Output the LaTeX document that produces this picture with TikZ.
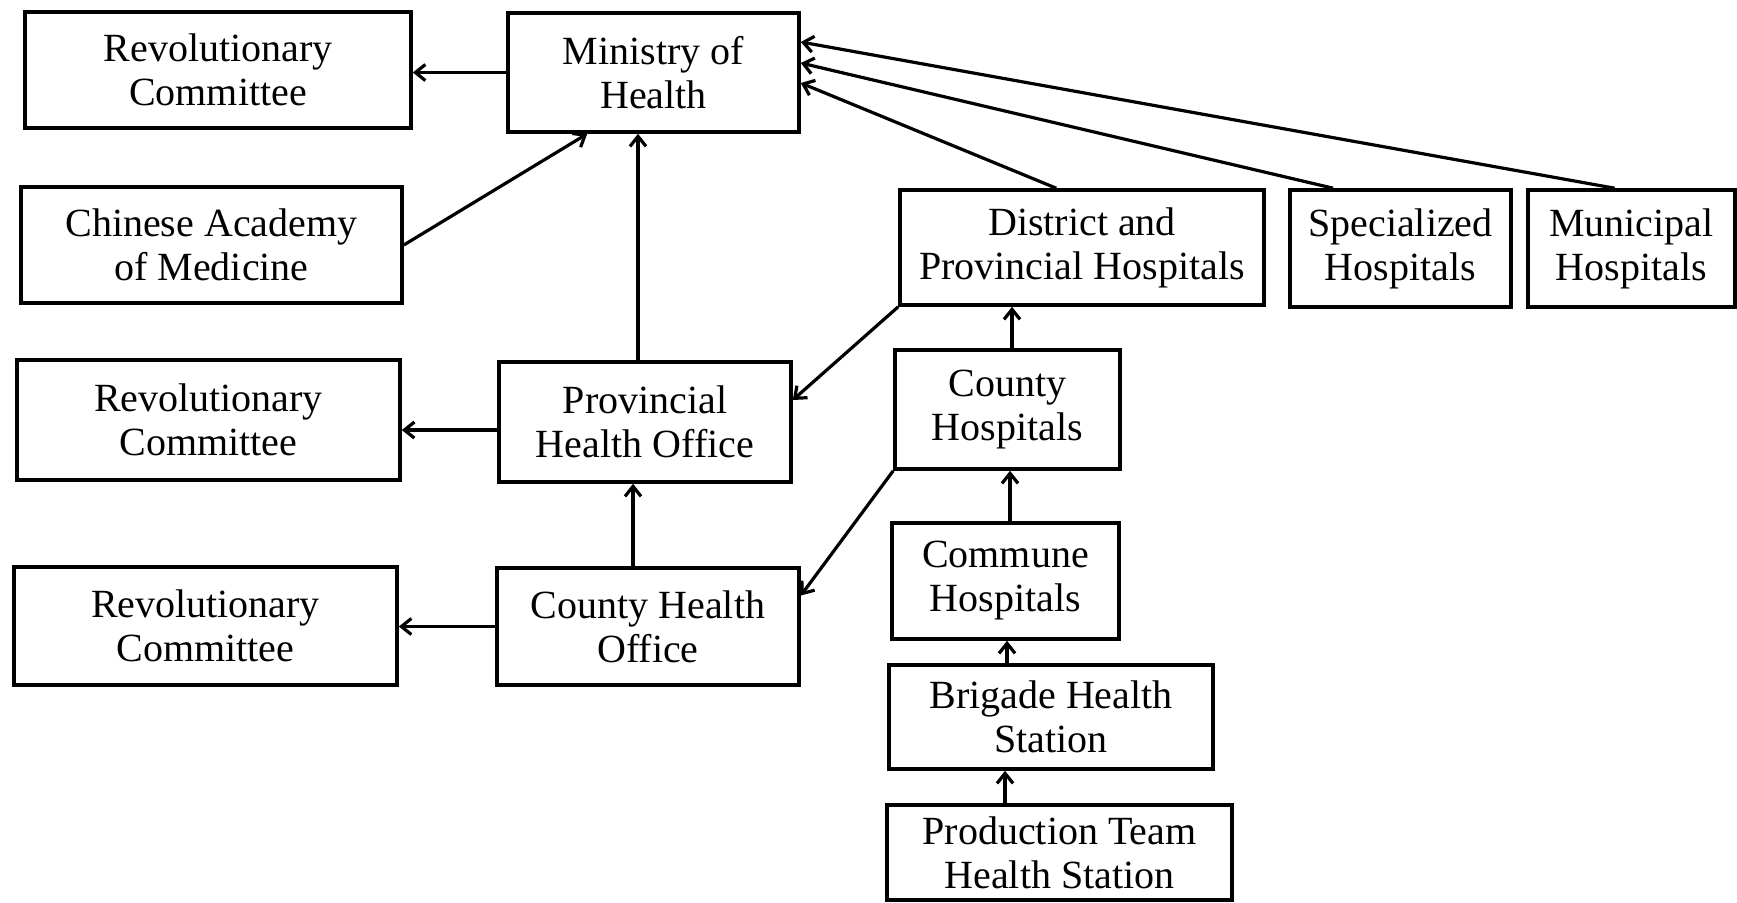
\documentclass[tikz,border=0pt]{standalone}
\usepackage{fontspec}
\setmainfont{Liberation Serif}
\usetikzlibrary{arrows.meta,calc}
\begin{document}
\begin{tikzpicture}[x=0.5pt,y=-0.5pt,
  box/.style={draw, line width=1.8pt, inner sep=0pt, align=center, font=\fontsize{20}{22}\selectfont},
  arr/.style={line width=1.6pt, -{Straight Barb[length=5pt,width=8pt]}}]
\useasboundingbox[fill=white] (0,0) rectangle (1737,902);
\node[box, minimum width=193pt, minimum height=58pt] (rc1) at (218,70) {Revolutionary\\Committee};
\node[box, minimum width=145.5pt, minimum height=59.5pt] (moh) at (653.5,72.5) {Ministry of\\Health};
\node[box, minimum width=190.5pt, minimum height=58pt] (cam) at (211.5,245) {Chinese Academy\\of Medicine};
\node[box, minimum width=182pt, minimum height=57.5pt] (dph) at (1082,247.5) {District and\\Provincial Hospitals};
\node[box, minimum width=110.5pt, minimum height=58.5pt] (sh) at (1400.5,248.5) {Specialized\\Hospitals};
\node[box, minimum width=103.5pt, minimum height=58.5pt] (mh) at (1631.5,248.5) {Municipal\\Hospitals};
\node[box, minimum width=191.5pt, minimum height=60pt] (rc2) at (208.5,420) {Revolutionary\\Committee};
\node[box, minimum width=146pt, minimum height=60pt] (pho) at (645,422) {Provincial\\Health Office};
\node[box, minimum width=112.5pt, minimum height=59.5pt] (ch) at (1007.5,409.5) {County\\Hospitals};
\node[box, minimum width=191.5pt, minimum height=59pt] (rc3) at (205.5,626) {Revolutionary\\Committee};
\node[box, minimum width=151pt, minimum height=58.5pt] (cho) at (648,626.5) {County Health\\Office};
\node[box, minimum width=113.5pt, minimum height=58pt] (com) at (1005.5,581) {Commune\\Hospitals};
\node[box, minimum width=162pt, minimum height=52pt] (bhs) at (1051,717) {Brigade Health\\Station};
\node[box, minimum width=172.5pt, minimum height=47.5pt] (pts) at (1059.5,852.5) {Production Team\\Health Station};
\draw[arr] (moh.west) -- (moh.west -| rc1.east);
\draw[arr] (cam.east) -- ($(moh.south west)!0.275!(moh.south east)$);
\draw[arr] ($(pho.north)+(-7,0)$) -- ($(moh.south)+(-15.5,0)$);
\draw[arr] ($(cho.north)+(-15,0)$) -- ($(pho.south)+(-12,0)$);
\draw[arr] ($(pho.west)+(0,8)$) -- ($(rc2.east)+(0,10)$);
\draw[arr] (cho.west) -- (cho.west -| rc3.east);
\draw[arr] ($(dph.north west)!0.43!(dph.north east)$) -- ($(moh.east)+(0,10.5)$);
\draw[arr] ($(sh.north west)!0.2!(sh.north east)$) -- ($(moh.east)+(0,-9.5)$);
\draw[arr] ($(mh.north west)!0.42!(mh.north east)$) -- ($(moh.east)+(0,-30.5)$);
\draw[arr] (dph.south west) -- ($(pho.east)+(0,-22)$);
\draw[arr] (ch.south west) -- ($(cho.east)+(0,-31)$);
\draw[arr] ($(ch.north)+(4.5,0)$) -- ($(dph.south)+(-70,0)$);
\draw[arr] ($(com.north)+(4.5,0)$) -- ($(ch.south)+(2.5,0)$);
\draw[arr] ($(bhs.north)+(-44,0)$) -- ($(com.south)+(1.5,0)$);
\draw[arr] ($(pts.north)+(-54.5,0)$) -- ($(bhs.south)+(-46,0)$);
\end{tikzpicture}
\end{document}
